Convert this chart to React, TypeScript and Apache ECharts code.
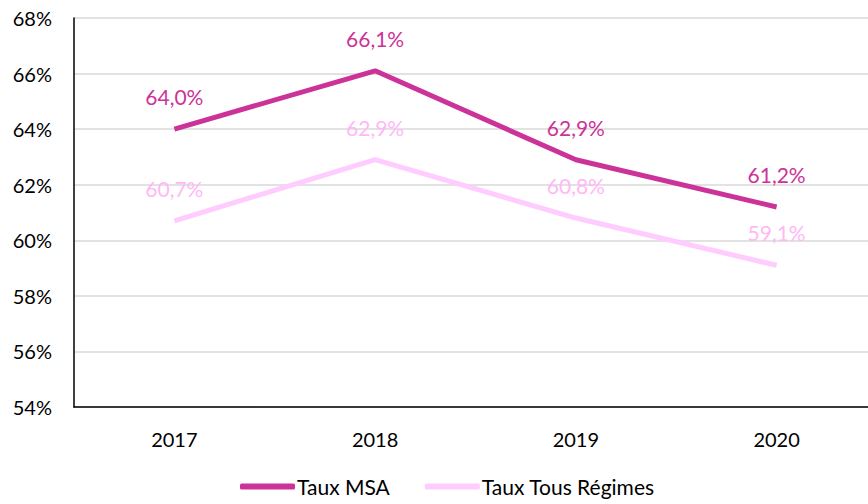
import React, { useEffect, useRef } from "react";
import * as echarts from "echarts";

const categories = ["2017", "2018", "2019", "2020"];
const msaValues = [64.0, 66.1, 62.9, 61.2];
const tousRegimesValues = [60.7, 62.9, 60.8, 59.1];
const yMin = 54;
const yMax = 68;
const yInterval = 2;

const FONT = "Lato, 'Open Sans', sans-serif";

export default function App() {
  const ref = useRef<HTMLDivElement>(null);
  useEffect(() => {
    if (!ref.current) return;
    const chart = echarts.init(ref.current, null, { renderer: "svg" });
    const fmt = (p: any) => Number(p.value).toFixed(1).replace(".", ",") + "%";
    chart.setOption({
      animation: false,
      textStyle: { fontFamily: FONT },
      grid: { left: 74, top: 18, width: 803, height: 389, containLabel: false },
      legend: {
        bottom: 2,
        left: 235,
        itemWidth: 55,
        itemHeight: 6,
        itemGap: 35,
        icon: "roundRect",
        textStyle: { fontSize: 21, color: "#000", fontFamily: FONT, padding: [0, 0, 0, -3] },
        data: ["Taux MSA", "Taux Tous Régimes"],
      },
      xAxis: {
        type: "category",
        data: categories,
        axisLine: { lineStyle: { color: "#000", width: 1.5 } },
        axisTick: { show: false },
        axisLabel: { fontSize: 20, color: "#000", margin: 22, fontFamily: FONT },
      },
      yAxis: {
        type: "value",
        min: yMin,
        max: yMax,
        interval: yInterval,
        axisLine: { show: true, lineStyle: { color: "#000", width: 1.5 } },
        axisTick: { show: false },
        splitLine: { lineStyle: { color: "#d9d9d9", width: 1.5 } },
        axisLabel: { fontSize: 20, color: "#000", margin: 22, formatter: "{value}%", fontFamily: FONT },
      },
      series: [
        {
          name: "Taux MSA",
          type: "line",
          data: msaValues,
          symbol: "circle",
          symbolSize: 0.1,
          showSymbol: true,
          lineStyle: { color: "#CC3399", width: 5 },
          itemStyle: { color: "#CC3399" },
          label: {
            show: true,
            position: "top",
            distance: 22,
            formatter: fmt,
            color: "#CC3399",
            fontSize: 21,
            fontFamily: FONT,
          },
        },
        {
          name: "Taux Tous Régimes",
          type: "line",
          data: tousRegimesValues,
          symbol: "circle",
          symbolSize: 0.1,
          showSymbol: true,
          lineStyle: { color: "#FFCCFF", width: 5 },
          itemStyle: { color: "#FFCCFF" },
          label: {
            show: true,
            position: "top",
            distance: 22,
            formatter: fmt,
            color: "#FFB8F5",
            fontSize: 21,
            fontFamily: FONT,
          },
        },
      ],
    });
    return () => chart.dispose();
  }, []);
  return (
    <div style={{ width: 868, height: 504, position: "absolute", left: 0, top: 0, overflow: "hidden" }}>
      <div ref={ref} style={{ width: 880, height: 504 }} />
    </div>
  );
}
